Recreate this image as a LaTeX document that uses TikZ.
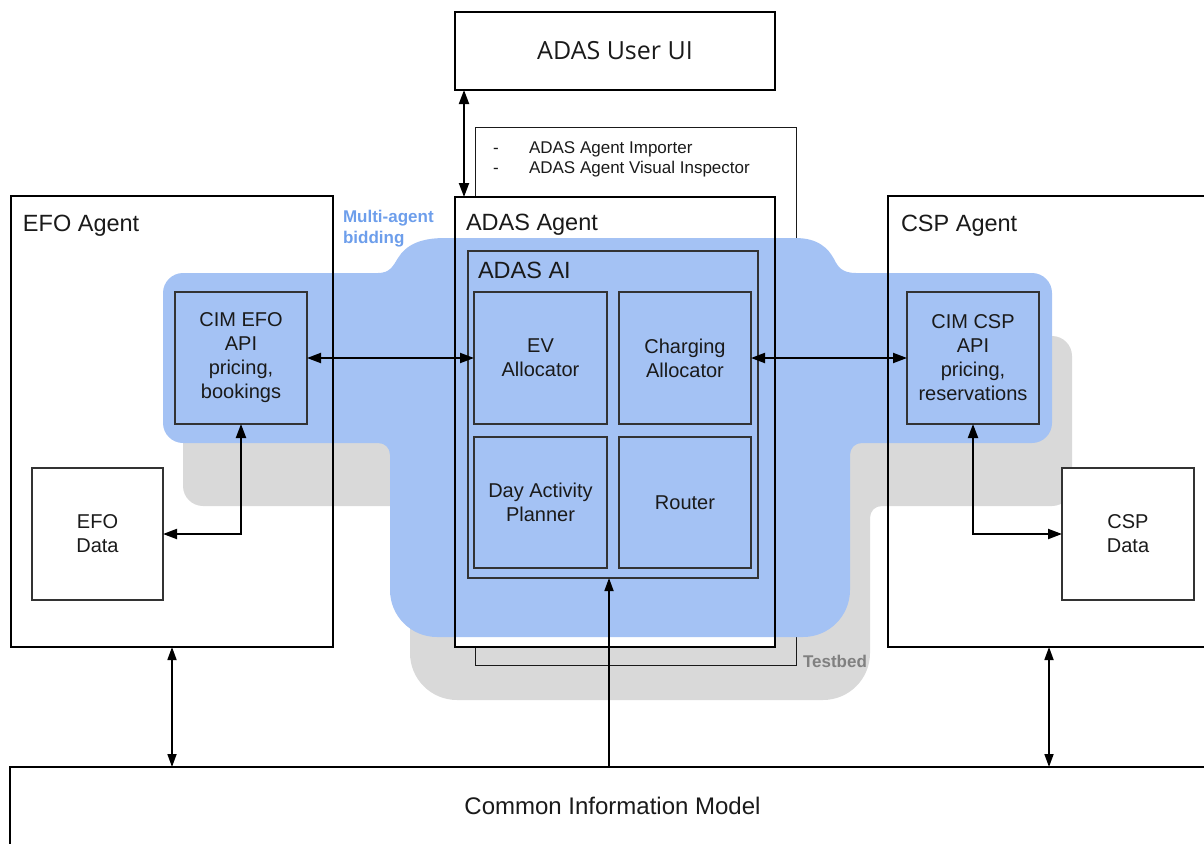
\documentclass[tikz,border=0pt]{standalone}
\usepackage{fontspec}
\setmainfont{Liberation Sans}
\newfontfamily\uifont{Open Sans}
\usetikzlibrary{arrows.meta}

\definecolor{bidblue}{HTML}{A4C2F4}
\definecolor{bidtext}{HTML}{6D9EEB}
\definecolor{bedgray}{HTML}{D9D9D9}
\definecolor{bedtext}{HTML}{808080}
\definecolor{ink}{HTML}{1A1A1A}
\definecolor{edge}{HTML}{333333}

% outline of the multi-agent bidding area (pixel-like units, y grows downwards)
\newcommand{\bidregion}{%
  (183,273) -- (378,273)
  .. controls (390,273) and (393,266) .. (398,258)
  .. controls (406,245) and (420,238) .. (445,238)
  -- (795,238)
  .. controls (818,238) and (828,248) .. (834,259)
  .. controls (838,267) and (842,273) .. (856,273)
  -- (1032,273) .. controls (1043,273) and (1052,282) .. (1052,293)
  -- (1052,423) .. controls (1052,434) and (1043,443) .. (1032,443)
  -- (862,443) .. controls (855,443) and (850,448) .. (850,455)
  -- (850,590) .. controls (850,616) and (829,637) .. (803,637)
  -- (437,637) .. controls (411,637) and (390,616) .. (390,590)
  -- (390,455) .. controls (390,448) and (385,443) .. (378,443)
  -- (183,443) .. controls (172,443) and (163,434) .. (163,423)
  -- (163,293) .. controls (163,282) and (172,273) .. (183,273) -- cycle}

\tikzset{
  every node/.style={inner sep=0pt, outer sep=0pt, text=ink},
  agentbox/.style={draw=black, line width=2pt, fill=white, rectangle},
  innerbox/.style={draw=edge, line width=1.2pt, rectangle, align=center,
    font=\fontsize{20}{24}\selectfont},
  databox/.style={innerbox, fill=white},
  agentlabel/.style={anchor=base west, font=\fontsize{23.5}{28}\selectfont},
  link/.style={line width=2pt, >={Triangle[length=14pt,width=10pt]}},
  cimlink/.style={line width=1.7pt, >={Triangle[length=13pt,width=9pt]}},
}

\begin{document}
\begin{tikzpicture}[x=1pt, y=-1pt]
  \useasboundingbox (0,0) rectangle (1204,843);
  \clip (0,0) rectangle (1204,843);

  % testbed area behind everything
  \path[fill=bedgray, shift={(20,63)}] \bidregion;
  \draw[line width=1pt, draw=ink] (475,127) rectangle (796,665);
  \node[anchor=base west, font=\fontsize{17}{21}\selectfont] (imp) at (529,153)
    {ADAS Agent Importer};
  \node[anchor=base west, font=\fontsize{17}{21}\selectfont] (vis) at (529,173)
    {ADAS Agent Visual Inspector};
  \node[anchor=base west, font=\fontsize{17}{21}\selectfont] (d1) at (493,153) {-};
  \node[anchor=base west, font=\fontsize{17}{21}\selectfont] (d2) at (493,173) {-};
  \node[anchor=base west, text=bedtext, font=\bfseries\fontsize{17}{21}\selectfont]
    (bedlbl) at (803,667) {Testbed};

  % the ADAS agent hides the testbed behind it
  \path[fill=white] (455,197) rectangle (775,647);

  % multi-agent bidding area
  \path[fill=bidblue] \bidregion;
  \node[anchor=base west, text=bidtext, font=\bfseries\fontsize{17}{21}\selectfont]
    (bidlbl1) at (343,222) {Multi-agent};
  \node[anchor=base west, text=bidtext, font=\bfseries\fontsize{17}{21}\selectfont]
    (bidlbl2) at (343,243) {bidding};

  % agent frames
  \node[agentbox, fill=none, minimum width=322pt, minimum height=451pt] (efo) at (172,421.5) {};
  \node[agentbox, fill=none, minimum width=322pt, minimum height=451pt] (csp) at (1049,421.5) {};
  \node[agentbox, fill=none, line width=2.5pt, minimum width=320pt, minimum height=450pt] (adas) at (615,422) {};
  \node[agentlabel] (efolbl) at (23,231) {EFO Agent};
  \node[agentlabel] (csplbl) at (901,231) {CSP Agent};
  \node[agentlabel] (adaslbl) at (466,230) {ADAS Agent};

  % user interface
  \node[agentbox, minimum width=320pt, minimum height=78pt,
    font=\uifont\fontsize{25}{30}\selectfont] (ui) at (615,51) {ADAS User UI};

  % ADAS AI and its components
  \node[innerbox, minimum width=290pt, minimum height=327pt] (ai) at (613,414.5) {};
  \node[agentlabel] (ailbl) at (478,278) {ADAS AI};
  \node[innerbox, minimum width=133pt, minimum height=132pt] (ev) at (540.5,358) {EV\\Allocator};
  \node[innerbox, minimum width=132pt, minimum height=132pt] (chg) at (685,358) {Charging\\Allocator};
  \node[innerbox, minimum width=133pt, minimum height=131pt] (day) at (540.5,502.5) {Day Activity\\Planner};
  \node[innerbox, minimum width=132pt, minimum height=131pt] (rtr) at (685,502.5) {Router};

  % API boxes
  \node[innerbox, minimum width=132pt, minimum height=132pt] (efoapi) at (241,358)
    {CIM EFO\\API\\pricing,\\bookings};
  \node[innerbox, minimum width=132pt, minimum height=132pt] (cspapi) at (973,358)
    {CIM CSP\\API\\pricing,\\reservations};

  % data stores
  \node[databox, minimum width=131pt, minimum height=132pt] (efodata) at (97.5,534) {EFO\\Data};
  \node[databox, minimum width=132pt, minimum height=132pt] (cspdata) at (1128,534) {CSP\\Data};

  % common information model
  \node[agentbox, minimum width=1205pt, minimum height=78pt,
    font=\fontsize{24}{28}\selectfont] (cim) at (612.5,806) {Common Information Model};

  % connectors
  \coordinate (uiport) at (464,90);
  \coordinate (adasport) at (464,197);
  \draw[link, <->] (uiport) -- (adasport);
  \draw[link, <->] (efoapi.east) -- (ev.west);
  \draw[link, <->] (chg.east) -- (cspapi.west);
  \draw[link, <->] (efoapi.south) |- (efodata.east);
  \draw[link, <->] (cspapi.south) |- (cspdata.west);
  \draw[cimlink, <->] (efo.south) -- (efo.south |- cim.north);
  \draw[cimlink, <->] (csp.south) -- (csp.south |- cim.north);
  \coordinate (aiport) at (609,578);
  \draw[cimlink, ->] (aiport |- cim.north) -- (aiport);
\end{tikzpicture}
\end{document}
